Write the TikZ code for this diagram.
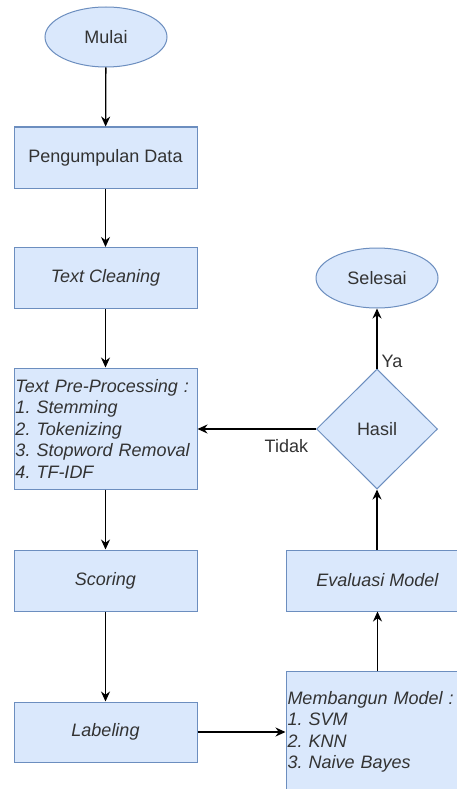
\documentclass[tikz,border=0pt]{standalone}
\usepackage{fontspec}
\setmainfont{Liberation Sans}
\usetikzlibrary{shapes.geometric,arrows.meta}
\definecolor{boxfill}{HTML}{DAE8FC}
\definecolor{boxline}{HTML}{6C8EBF}
\definecolor{txt}{HTML}{333333}
\tikzset{
  base/.style={draw=boxline, fill=boxfill, line width=1pt, text=txt, inner sep=0pt,
    font=\fontsize{18}{21.5}\selectfont},
  terminal/.style={base, ellipse, minimum width=122pt, minimum height=60pt},
  proc/.style={base, rectangle, minimum width=183pt, minimum height=61pt, align=center},
  listbox/.style={base, rectangle, minimum width=183pt, minimum height=121pt,
    text width=180pt, align=left, font=\fontsize{18}{21.5}\selectfont\itshape},
  decision/.style={base, diamond, minimum width=121pt, minimum height=120pt, aspect=1},
  flow/.style={-{Stealth[length=10pt,width=9pt]}, line width=1.3pt, black},
  lbl/.style={text=txt, font=\fontsize{18}{21.5}\selectfont, inner sep=0pt}
}
\frenchspacing
\begin{document}
\begin{tikzpicture}[x=1pt,y=-1pt]
\clip (0,0) rectangle (457,789);
\fill[white] (0,0) rectangle (457,789);
\node[terminal] (mulai) at (106,37) {Mulai};
\node[proc] (peng) at (105.5,157.5) {Pengumpulan Data};
\node[proc, font=\fontsize{18}{21.5}\selectfont\itshape] (clean) at (105.5,278) {Text Cleaning};
\node[listbox] (pre) at (105.5,428.5) {Text Pre-Processing :\\1. Stemming\\2. Tokenizing\\3. Stopword Removal\\4. TF-IDF};
\node[proc, font=\fontsize{18}{21.5}\selectfont\itshape] (scoring) at (105.5,580.5) {Scoring};
\node[proc, minimum height=60pt, font=\fontsize{18}{21.5}\selectfont\itshape] (labeling) at (105.5,732) {Labeling};
\node[listbox] (memb) at (377.5,732) {Membangun Model :\\1. SVM\\2. KNN\\3. Naive Bayes};
\node[proc, font=\fontsize{18}{21.5}\selectfont\itshape] (eval) at (377.5,580.5) {Evaluasi Model};
\node[decision] (hasil) at (377,429) {Hasil};
\node[terminal] (selesai) at (377,278) {Selesai};

\draw[flow] (mulai) -- (peng);
\draw[flow] (peng) -- (clean);
\draw[flow] (clean) -- (pre);
\draw[flow] (pre) -- (scoring);
\draw[flow] (scoring) -- (labeling);
\draw[flow] (labeling.east) -- (memb.west);
\draw[flow] (memb.north -| eval) -- (eval.south);
\draw[flow] (eval.north -| hasil) -- (hasil.south);
\draw[flow] (hasil.north) -- node[lbl, right=4pt, pos=0.12] (ya) {Ya} (selesai.south);
\draw[flow] (hasil.west) -- (pre.east |- hasil.west) node[lbl, pos=0.25, below=10pt] (tidak) {Tidak};
\end{tikzpicture}
\end{document}
